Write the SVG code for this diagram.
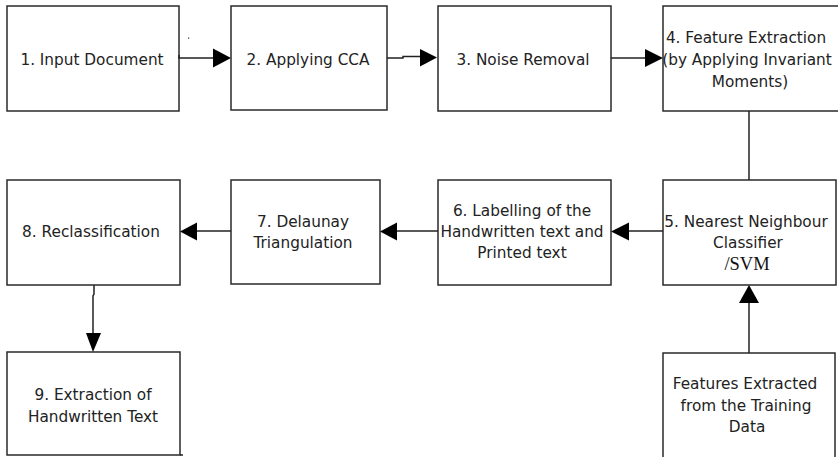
<svg xmlns="http://www.w3.org/2000/svg" width="838" height="457" viewBox="0 0 838 457">
<style>
.box{fill:#fff;stroke:#2a2a2a;stroke-width:1.5}
.t{font-family:"DejaVu Sans",sans-serif;font-size:15.3px;fill:#222;text-anchor:middle}
.s{font-family:"Liberation Serif",serif;font-size:18.5px;fill:#111;text-anchor:middle}
.ln{fill:none;stroke:#222;stroke-width:1.5}
.ah{fill:#000}
</style>
<rect width="838" height="457" fill="#fff"/>
<g id="n1"><rect class="box" x="7" y="6" width="172" height="105"/><text class="t" x="92" y="65">1. Input Document</text></g>
<g id="n2"><rect class="box" x="231" y="6" width="156" height="104"/><text class="t" x="308" y="65">2. Applying CCA</text></g>
<g id="n3"><rect class="box" x="438" y="6" width="173" height="105"/><text class="t" x="523" y="65">3. Noise Removal</text></g>
<g id="n4"><rect class="box" x="663" y="6" width="182" height="105"/><text class="t" x="746" y="43">4. Feature Extraction</text><text class="t" x="747" y="65">(by Applying Invariant</text><text class="t" x="750" y="87">Moments)</text></g>
<g id="n5"><rect class="box" x="663" y="180" width="173" height="105"/><text class="t" x="746" y="227">5. Nearest Neighbour</text><text class="t" x="748" y="248">Classifier</text><text class="s" x="747" y="270">/SVM</text></g>
<g id="n6"><rect class="box" x="438" y="180" width="173" height="105"/><text class="t" x="522" y="216">6. Labelling of the</text><text class="t" x="522" y="237">Handwritten text and</text><text class="t" x="522" y="258">Printed text</text></g>
<g id="n7"><rect class="box" x="231" y="180" width="149" height="104"/><text class="t" x="303" y="227">7. Delaunay</text><text class="t" x="303" y="248">Triangulation</text></g>
<g id="n8"><rect class="box" x="7" y="180" width="173" height="105"/><text class="t" x="91" y="237">8. Reclassification</text></g>
<g id="n9"><rect class="box" x="7" y="352" width="173" height="103"/><line class="ln" x1="180" y1="455" x2="183" y2="455"/><text class="t" x="93" y="400">9. Extraction of</text><text class="t" x="93" y="422">Handwritten Text</text></g>
<g id="n10"><rect class="box" x="663" y="353" width="172" height="110"/><text class="t" x="745" y="389">Features Extracted</text><text class="t" x="746" y="411">from the Training</text><text class="t" x="747" y="432">Data</text></g>
<g id="connectors">
<rect x="188" y="37.5" width="1.2" height="1.2" fill="#333"/>
<path class="ln" d="M179,55 V58 H214"/><polygon class="ah" points="213,48.5 231,58 213,67.5"/>
<path class="ln" d="M387,58 H403 V56.5 H421"/><polygon class="ah" points="420,49 437,57.5 420,66.5"/>
<path class="ln" d="M611,58 H646"/><polygon class="ah" points="645,49 663,58 645,67"/>
<path class="ln" d="M749,111 V180"/>
<path class="ln" d="M663,231 H628"/><polygon class="ah" points="629,222.5 611,231.5 629,240.5"/>
<path class="ln" d="M438,231 H396"/><polygon class="ah" points="397,222.5 380,231.5 397,240.5"/>
<path class="ln" d="M231,231 H196"/><polygon class="ah" points="197,222.5 180,231.5 197,240.5"/>
<path class="ln" d="M94,285 V294 L93,296 V335"/><polygon class="ah" points="86,333 101,333 93,352"/>
<path class="ln" d="M749,353 V302"/><polygon class="ah" points="739,303 759,303 749,285"/>
</g>
</svg>
